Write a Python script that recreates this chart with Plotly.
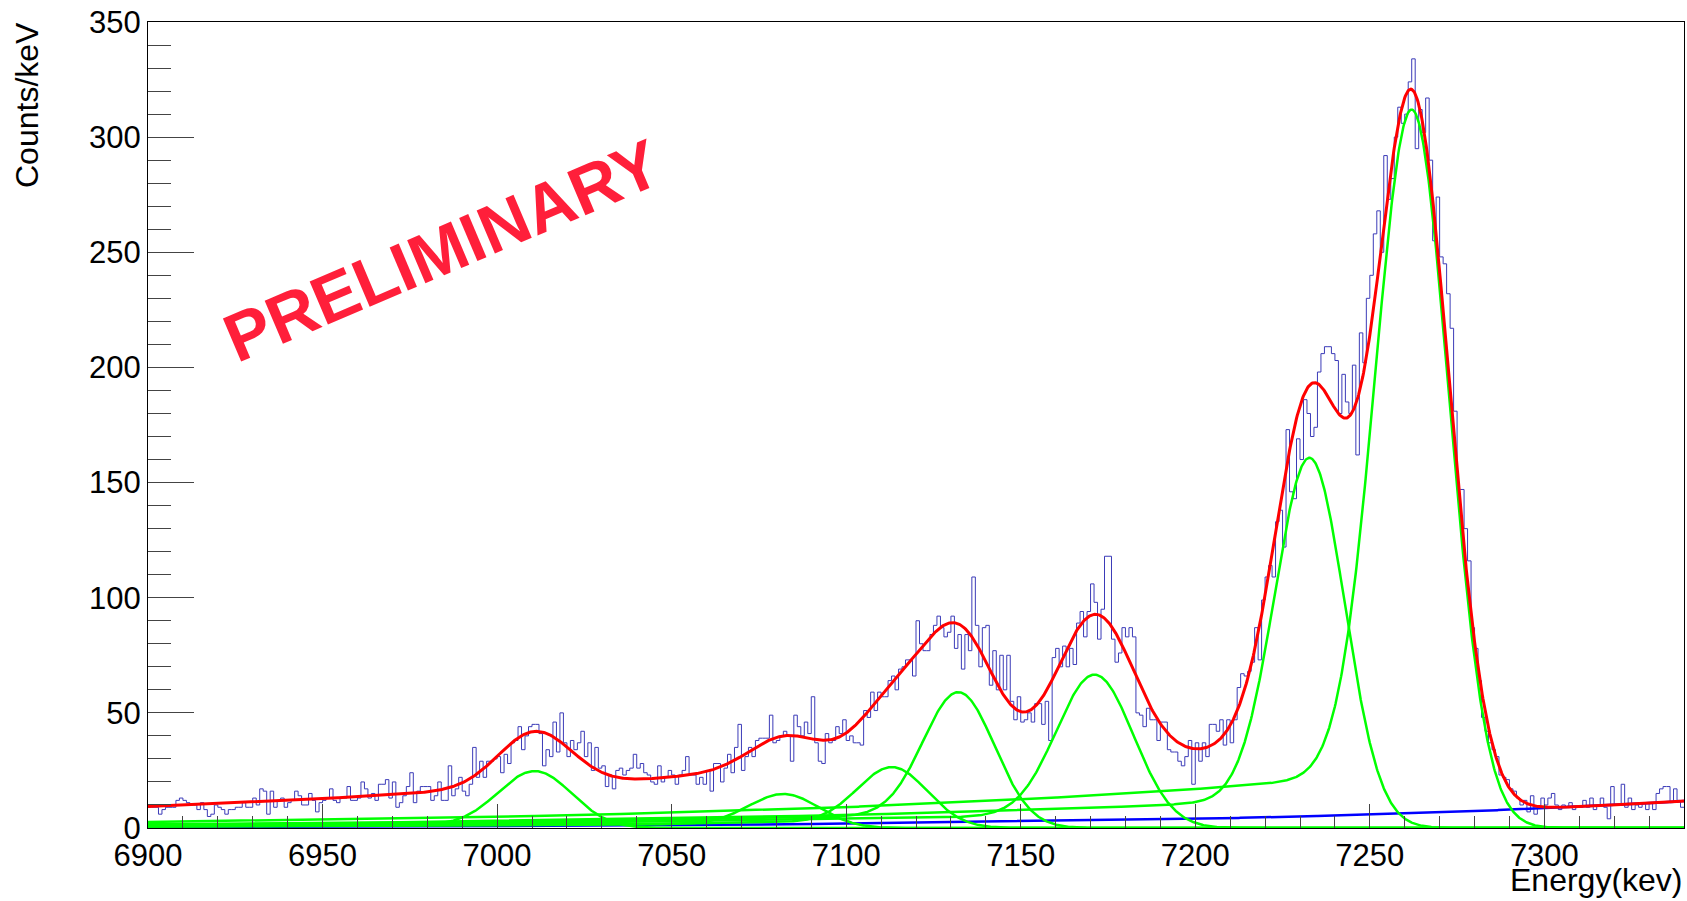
import math
import numpy as np
import plotly.graph_objects as go

# ---- histogram: counts per 1 keV bin, 6900..7340 keV ----
bin_start = 6900
bin_width = 1
counts = [
    9, 9, 9, 6, 8, 9, 9, 9, 12, 13,
    12, 11, 10, 10, 8, 11, 8, 5, 6, 10,
    9, 8, 6, 8, 8, 9, 9, 11, 9, 9,
    13, 10, 17, 16, 6, 16, 9, 12, 13, 9,
    11, 12, 16, 14, 10, 10, 15, 12, 7, 11,
    12, 13, 17, 12, 11, 13, 13, 18, 12, 12,
    13, 20, 17, 13, 15, 12, 19, 19, 21, 13,
    20, 9, 11, 14, 18, 24, 11, 16, 18, 18,
    18, 12, 14, 20, 12, 12, 27, 14, 17, 22,
    16, 14, 19, 35, 22, 29, 22, 29, 29, 30,
    31, 24, 32, 28, 37, 38, 44, 34, 40, 44,
    45, 45, 41, 27, 34, 31, 46, 33, 50, 37,
    31, 38, 34, 37, 42, 31, 37, 25, 35, 26,
    27, 18, 23, 17, 25, 26, 23, 25, 26, 32,
    26, 28, 24, 23, 20, 19, 27, 20, 22, 25,
    23, 19, 23, 25, 31, 23, 23, 19, 22, 19,
    25, 16, 28, 28, 20, 26, 32, 24, 35, 45,
    25, 31, 35, 31, 38, 39, 39, 39, 49, 37,
    38, 40, 42, 40, 29, 49, 44, 40, 46, 41,
    57, 37, 29, 28, 41, 37, 38, 44, 41, 47,
    38, 40, 37, 37, 36, 51, 48, 59, 51, 59,
    57, 57, 64, 66, 60, 69, 70, 73, 73, 66,
    90, 80, 77, 77, 84, 88, 92, 87, 83, 85,
    92, 78, 84, 69, 84, 77, 109, 88, 70, 87,
    88, 62, 77, 60, 75, 60, 75, 55, 47, 57,
    46, 47, 50, 46, 54, 54, 45, 55, 38, 74,
    78, 70, 79, 70, 78, 71, 89, 94, 83, 94,
    106, 98, 82, 95, 118, 118, 82, 72, 76, 87,
    83, 87, 83, 50, 49, 44, 52, 47, 47, 38,
    46, 46, 34, 33, 33, 29, 27, 31, 38, 19,
    37, 29, 37, 31, 45, 45, 42, 47, 36, 47,
    37, 47, 61, 67, 66, 68, 72, 87, 73, 99,
    109, 114, 109, 133, 138, 122, 173, 146, 143, 169,
    160, 186, 180, 170, 174, 198, 206, 209, 209, 206,
    203, 180, 197, 185, 180, 201, 162, 215, 202, 230,
    240, 258, 268, 250, 292, 273, 282, 300, 313, 306,
    310, 324, 334, 295, 312, 302, 317, 290, 255, 274,
    248, 245, 232, 217, 181, 147, 147, 130, 116, 87,
    78, 64, 48, 42, 37, 34, 31, 23, 22, 21,
    17, 16, 13, 10, 12, 7, 14, 6, 9, 13,
    10, 13, 15, 10, 8, 10, 9, 11, 8, 9,
    9, 12, 9, 13, 8, 10, 13, 9, 4, 18,
    10, 10, 19, 9, 13, 8, 10, 9, 11, 8,
    11, 8, 15, 17, 18, 18, 11, 17, 12, 9,
]

# ---- fit parameters: gaussian peaks with low-energy exponential tail ----
peak_centroids = [7011.0, 7082.5, 7113.5, 7132.5, 7171.5, 7233.0, 7262.3]
peak_heights = [24.0, 13.8, 25.0, 56.1, 63.7, 154.5, 300.0]
peak_sigmas = [10.5, 10.0, 10.0, 10.2, 11.0, 10.0, 10.5]
tail_heights = [1.5, 2.0, 3.0, 6.0, 6.0, 13.0, 25.0]
tail_slope = 160.0          # keV
bkg_amp = 8.6               # counts/keV at bkg_ref
bkg_ref = 7300.0
bkg_scale = 130.0           # keV

x_min, x_max = 6900, 7340
y_min, y_max = 0, 350

erfc = np.vectorize(math.erfc)


def peak_shape(x, c, h, s, t):
    d = x - c
    gauss = h * np.exp(-d ** 2 / (2 * s ** 2))
    tail = t * np.exp(d / tail_slope) * 0.5 * erfc(d / (math.sqrt(2) * s) + s / (math.sqrt(2) * tail_slope))
    return gauss + tail


def background(x):
    return bkg_amp * np.exp((x - bkg_ref) / bkg_scale)


xf = np.linspace(x_min, x_max, 2201)
components = [peak_shape(xf, c, h, s, t)
              for c, h, s, t in zip(peak_centroids, peak_heights, peak_sigmas, tail_heights)]
bkg = background(xf)
total = bkg + np.sum(components, axis=0)

edges = bin_start + bin_width * np.arange(len(counts) + 1)
hist_y = counts + [counts[-1]]

fig = go.Figure()
fig.add_trace(go.Scatter(x=edges, y=hist_y, mode="lines", line_shape="hv",
                         line=dict(color="#3b3bb8", width=1), hoverinfo="skip"))
fig.add_trace(go.Scatter(x=xf, y=bkg, mode="lines",
                         line=dict(color="#0000ff", width=2.5)))
for comp in components:
    fig.add_trace(go.Scatter(x=xf, y=comp, mode="lines",
                             line=dict(color="#00ff00", width=2.5)))
fig.add_trace(go.Scatter(x=xf, y=total, mode="lines",
                         line=dict(color="#ff0000", width=3)))

# plot frame in pixels
W, H = 1687, 901
L, R, T, B = 148, 1684, 22, 828


def px(xp):
    return (xp - L) / (R - L)


def py(yp):
    return (B - yp) / (B - T)


font_family = "Liberation Sans, Arial, Helvetica, sans-serif"

fig.update_layout(
    width=W, height=H,
    margin=dict(l=L, r=W - R, t=T, b=H - B, pad=0),
    paper_bgcolor="white", plot_bgcolor="white",
    showlegend=False,
    font=dict(family=font_family, size=31, color="black"),
    xaxis=dict(range=[x_min, x_max], dtick=50, tick0=6900,
               ticks="inside", ticklen=24, tickwidth=1, tickcolor="#444",
               minor=dict(ticks="inside", ticklen=12, dtick=10, tickcolor="#444", tickwidth=1),
               showline=True, linecolor="black", linewidth=1, mirror=True,
               showgrid=False, zeroline=False, tickfont=dict(size=31)),
    yaxis=dict(range=[y_min, y_max], dtick=50, tick0=0,
               ticks="inside", ticklen=46, tickwidth=1, tickcolor="#444",
               minor=dict(ticks="inside", ticklen=23, dtick=10, tickcolor="#444", tickwidth=1),
               showline=True, linecolor="black", linewidth=1, mirror=True,
               showgrid=False, zeroline=False, tickfont=dict(size=31)),
)

fig.add_annotation(text="Counts/keV", textangle=-90, xref="paper", yref="paper",
                   x=px(27), y=py(20), xanchor="center", yanchor="top",
                   showarrow=False, font=dict(size=32))
fig.add_annotation(text="Energy(kev)", xref="paper", yref="paper",
                   x=px(1685), y=py(900), xanchor="right", yanchor="bottom",
                   showarrow=False, font=dict(size=32))
fig.add_annotation(text="<b>PRELIMINARY</b>", textangle=-23, xref="paper", yref="paper",
                   x=px(442), y=py(250), xanchor="center", yanchor="middle",
                   showarrow=False, font=dict(size=68, color="#ff1f3a"))

fig.write_html("out.html")
